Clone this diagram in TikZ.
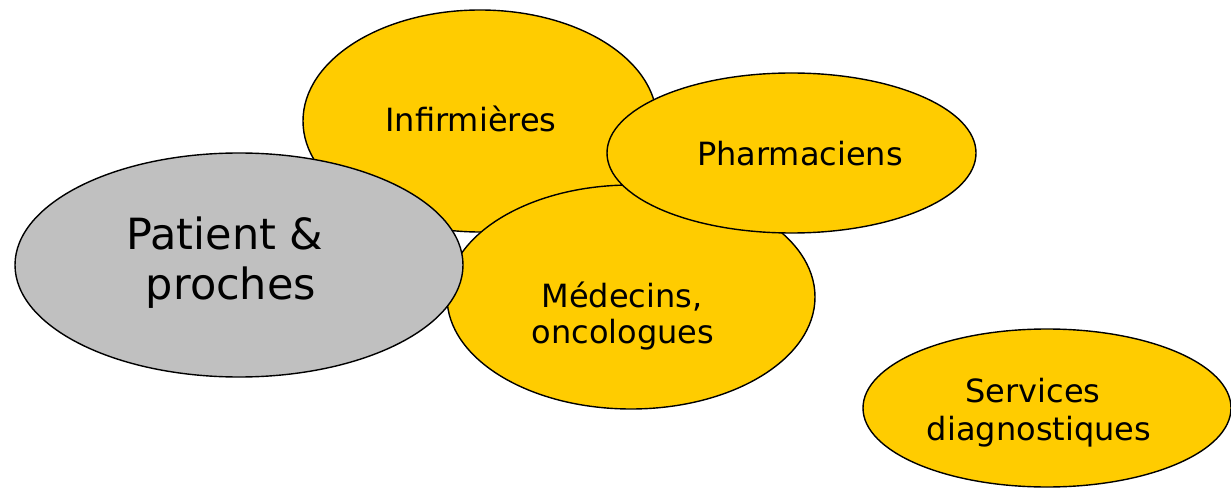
\documentclass[tikz,border=0pt]{standalone}
\usepackage{fontspec}
\setmainfont{DejaVu Sans}
\usetikzlibrary{shapes.geometric}
\definecolor{gold}{HTML}{FFCC00}
\definecolor{greyfill}{HTML}{C0C0C0}
\tikzset{
  blob/.style={ellipse, draw=black, line width=1.4pt, inner sep=0pt, fill=gold},
  small/.style={anchor=base, inner sep=0pt, font=\fontsize{32}{38}\selectfont},
  big/.style={anchor=base, inner sep=0pt, font=\fontsize{43}{51}\selectfont}
}
\begin{document}
\begin{tikzpicture}[x=1pt,y=-1pt]
\useasboundingbox (0,0) rectangle (1231,489);
\node[blob, minimum width=354pt, minimum height=222pt] (inf) at (480,121) {};
\node[blob, minimum width=368pt, minimum height=224pt] (med) at (631,297) {};
\node[blob, minimum width=369pt, minimum height=160pt] (pha) at (791.5,153) {};
\node[blob, fill=greyfill, minimum width=448pt, minimum height=224pt] (pat) at (239,265) {};
\node[blob, minimum width=368pt, minimum height=158pt] (ser) at (1047,408) {};
\node[small] (tinf) at (471,132) {Infirmières};
\node[small] (tpha) at (800,166) {Pharmaciens};
\node[small] (tmed1) at (622,307) {Médecins,};
\node[small] (tmed2) at (623,343) {oncologues};
\node[small] (tser1) at (1033,402) {Services};
\node[small] (tser2) at (1039,440) {diagnostiques};
\node[big] (tpat1) at (225,249) {Patient \&};
\node[big] (tpat2) at (231,299) {proches};
\end{tikzpicture}
\end{document}
